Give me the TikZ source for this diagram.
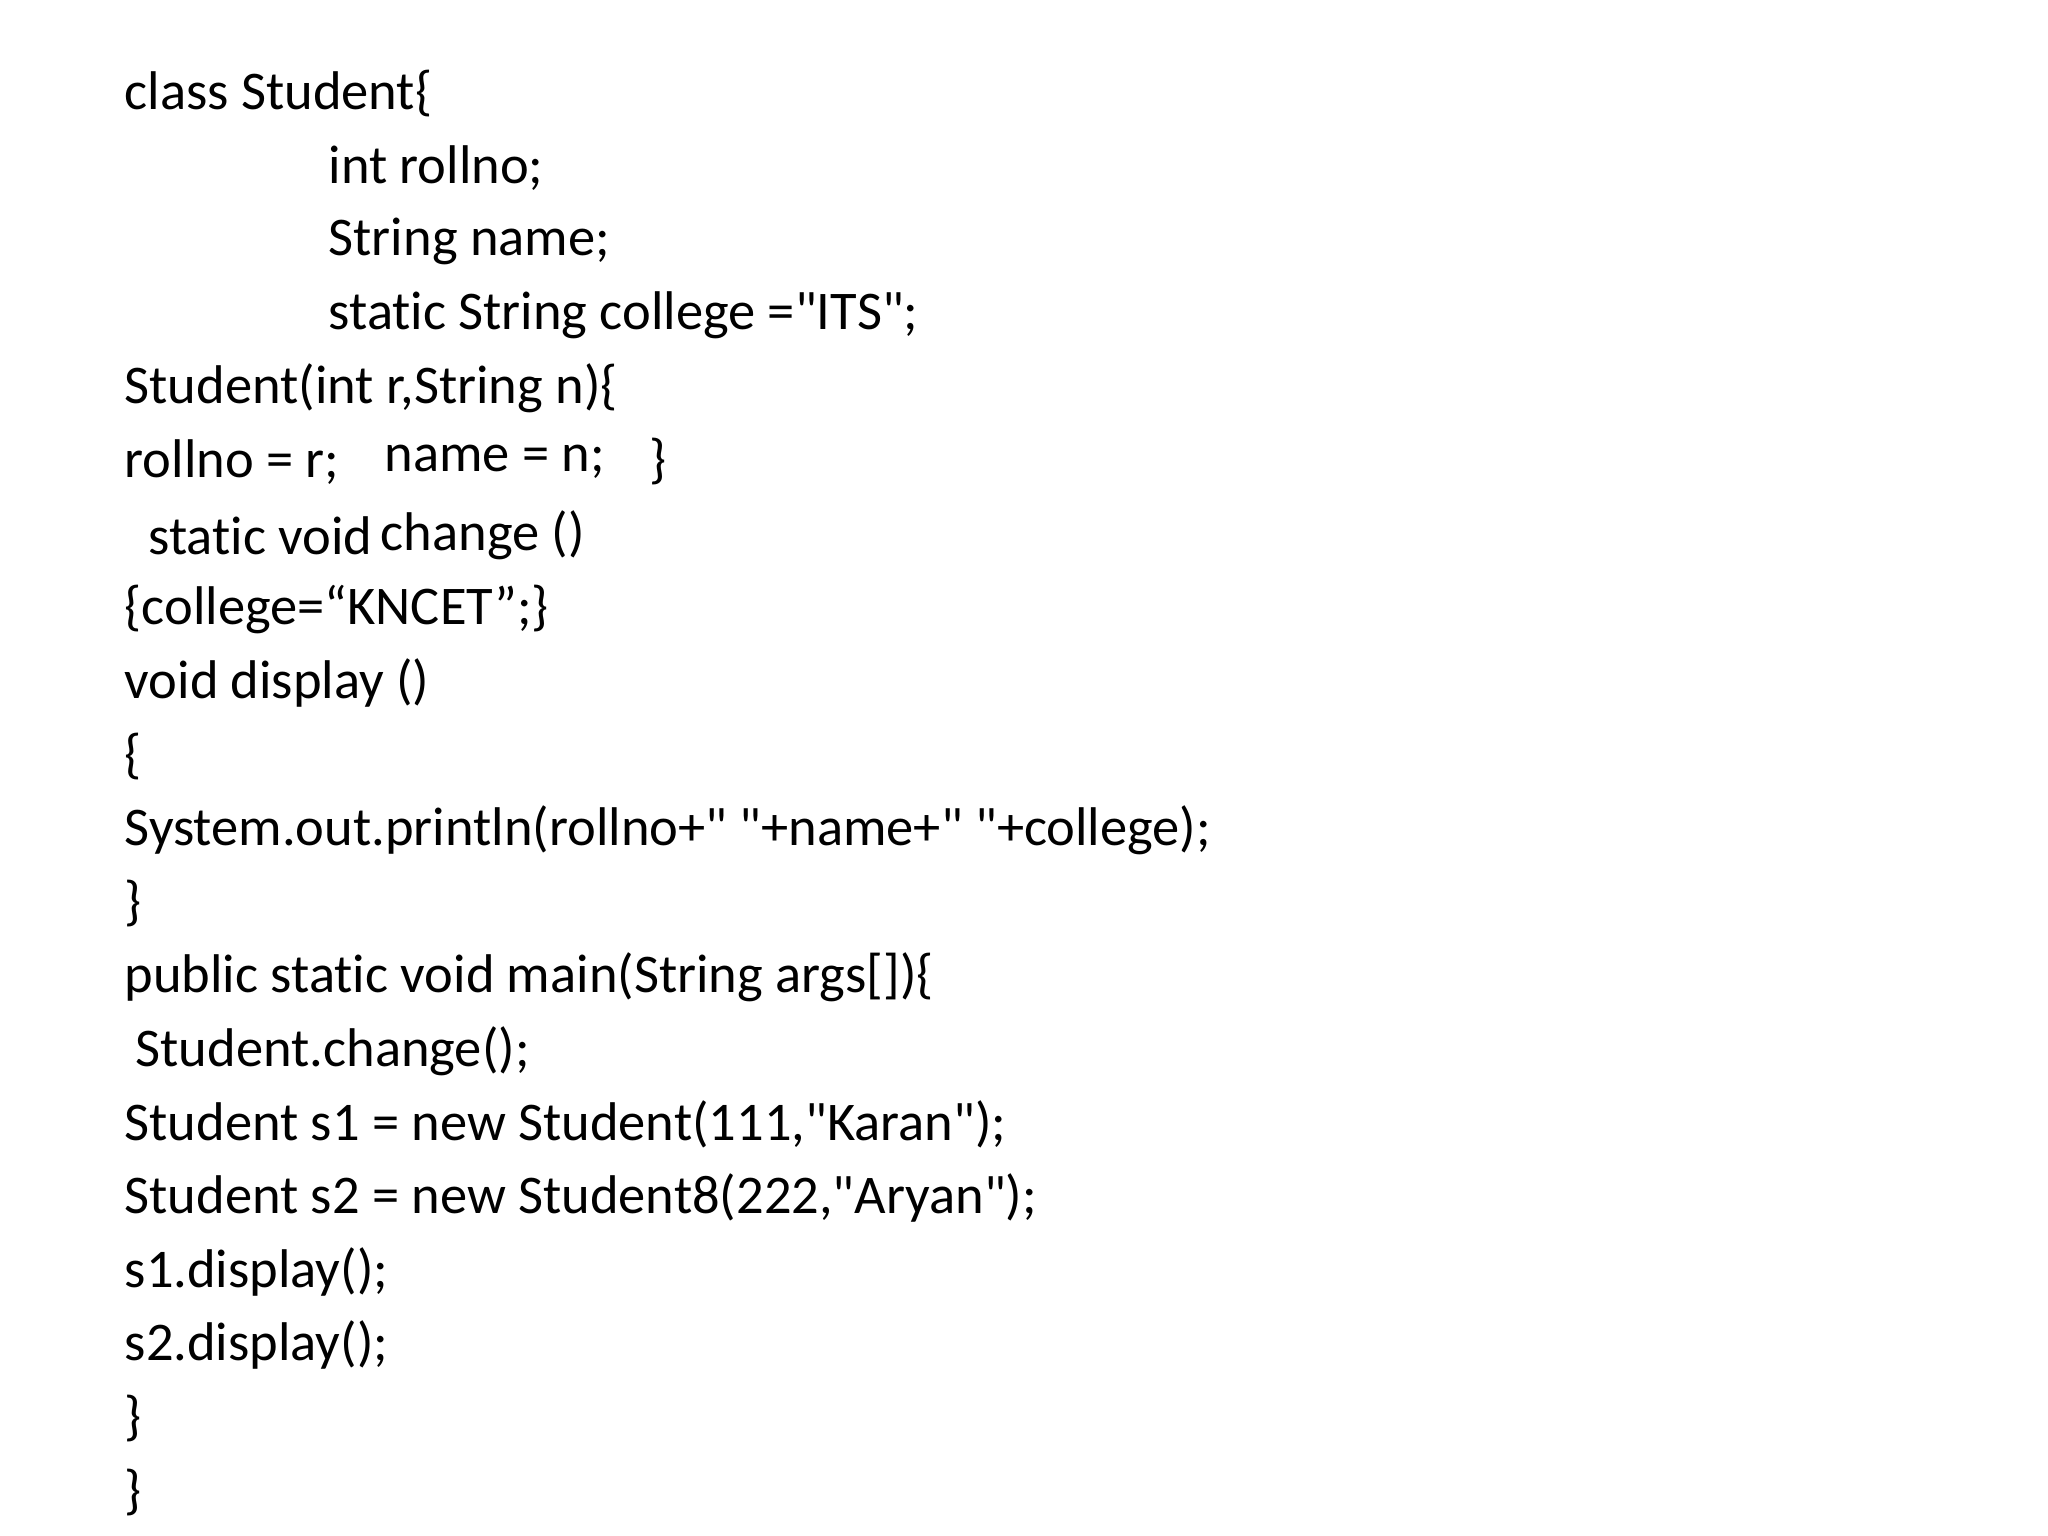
\documentclass[tikz,border=0pt]{standalone}
\usepackage{fontspec}
\newfontfamily\calfont[Ligatures=NoCommon]{Carlito}
\begin{document}
\begin{tikzpicture}[x=1cm,y=-1cm,
  ln/.style={anchor=west,inner sep=0pt,font=\calfont\fontsize{15.5}{18}\selectfont}]
\useasboundingbox[fill=white] (0,0) rectangle (20.48,15.36);
\def\L#1{0.94+0.736*#1}
\node[ln] (l0) at (1.24,{\L{0}}) {class Student\{};
\node[ln] (l1) at (3.28,{\L{1}}) {int rollno;};
\node[ln] (l2) at (3.28,{\L{2}}) {String name;};
\node[ln] (l3) at (3.28,{\L{3}}) {static String college ="ITS";};
\node[ln] (l4) at (1.24,{\L{4}}) {Student(int r,String n)\{};
\node[ln] (l5a) at (1.24,{\L{5}}) {rollno = r;};
\node[ln] (l5b) at (3.84,{\L{5}}) {name = n;};
\node[ln] (l5c) at (6.49,{\L{5}}) {\}};
\node[ln] (l6a) at (1.48,{\L{6}}) {static void};
\node[ln] (l6b) at (3.80,{\L{6}}) {change ()};
\node[ln] (l7) at (1.24,{\L{7}}) {\{college=“KNCET”;\}};
\node[ln] (l8) at (1.24,{\L{8}}) {void display ()};
\node[ln] (l9) at (1.24,{\L{9}}) {\{};
\node[ln] (l10) at (1.24,{\L{10}}) {System.out.println(rollno+" "+name+" "+college);};
\node[ln] (l11) at (1.24,{\L{11}}) {\}};
\node[ln] (l12) at (1.24,{\L{12}}) {public static void main(String args[])\{};
\node[ln] (l13) at (1.35,{\L{13}}) {Student.change();};
\node[ln] (l14) at (1.24,{\L{14}}) {Student s1 = new Student(111,"Karan");};
\node[ln] (l15) at (1.24,{\L{15}}) {Student s2 = new Student8(222,"Aryan");};
\node[ln] (l16) at (1.24,{\L{16}}) {s1.display();};
\node[ln] (l17) at (1.24,{\L{17}}) {s2.display();};
\node[ln] (l18) at (1.24,{\L{18}}) {\}};
\node[ln] (l19) at (1.24,{\L{19}}) {\}};
\end{tikzpicture}
\end{document}
